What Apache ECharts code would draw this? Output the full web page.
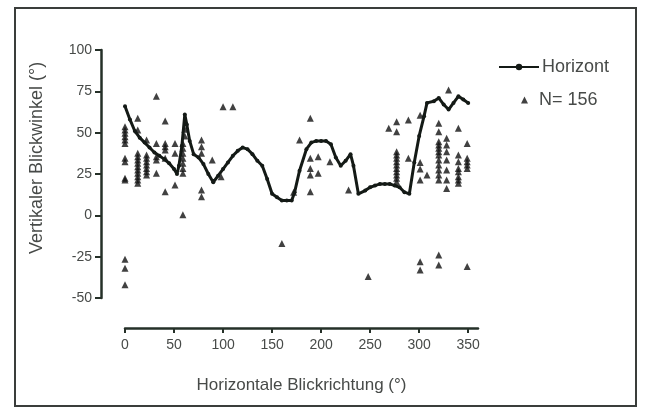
<!DOCTYPE html>
<html>
<head>
<meta charset="utf-8">
<script src="https://cdn.jsdelivr.net/npm/echarts@6/dist/echarts.min.js"></script>
<style>html,body{margin:0;padding:0;background:#fff}#c{width:646px;height:410px}</style>
</head>
<body>
<div id="c"></div>
<script>
// Horizon line (x in degrees, y in degrees)
const horizonX = [0,5,10,15,20,25,30,35,40,45,50,53,55,58,61,63,66,70,75,80,85,90,95,100,105,110,115,120,125,130,135,140,145,150,155,160,165,170,173,178,185,190,195,200,205,210,215,220,225,230,233,238,245,250,255,260,265,270,275,280,285,290,295,300,305,308,315,320,325,330,335,340,345,350];
const horizonY = [66,58,51,47,44,41,38,36,34,31.5,28,25,30,42,61,55,45,37,35,31,25,20,24,28,32,36,39,41,40,37,33,30,22,13,11,9,9,9,14,27,40,44,45,45,45,43,35,30,33,37,30,13,15,17,18,19,19,19,18,17,14,13,32,48,60,68,69,71,67,64,68,72,70,68];

// Individual observations (N = 156)
const pointX = [
  0,0,0,0,0,0,0,0,0,0,0,0,0,
  13,13,13,13,13,13,13,13,13,13,13,13,
  22,22,22,22,22,22,22,22,
  32,32,32,32,32,
  41,41,41,41,41,41,
  51,51,51,
  59,59,59,59,59,59,59,59,
  61,61,
  78,78,78,78,78,
  89,98,100,110,160,172,178,
  189,189,189,189,189,
  197,197,209,228,248,269,
  277,277,277,277,277,277,277,277,277,277,277,277,
  289,289,
  301,301,301,301,301,301,
  308,
  320,320,320,320,320,320,320,320,320,320,320,320,320,320,
  328,328,328,328,328,328,328,
  330,
  340,340,340,340,340,340,340,340,
  349,349,349,349,349,349
];
const pointY = [
  53.6,51.6,49.6,47.5,45.5,43.5,34.5,32.4,22.4,21.4,-26.6,-32,-42,
  58.7,51.6,37.5,35.5,33.5,31.5,29.4,27.4,25.4,23.4,21.4,19.4,
  45.5,36.5,34.5,32.4,30.4,28.4,26.4,24.4,
  72,43.5,35.5,33.5,25.4,
  57,43.5,41.5,39.5,34.5,14.3,
  43.5,37.5,18.3,
  43.5,40.5,37.5,34.5,31.5,28.4,25.4,0.3,
  52,48,
  45.5,41.5,37.5,15.3,11.3,
  33.5,23.4,65.7,65.7,-17,14,45.5,
  58.7,34.5,28.4,24.4,14.3,
  35.5,25.4,32.4,15.3,-37,52.6,
  56.6,50.6,38.5,36.5,34.5,32.4,30.4,28.4,26.4,24.4,22.4,20.3,
  57.7,34.5,
  60.6,32,28,21.4,-28,-33,
  24.4,
  55.7,50.6,44.5,42.5,40.5,38.5,36.5,33.5,30.4,27.4,24.4,21.4,-24,-30,
  46.6,42.5,38.5,33.5,27.4,21.4,16.3,
  75.8,
  52.6,36.5,32.4,28.4,26.4,23.4,21.4,19.4,
  43.5,34.5,32.4,30.4,28.4,-31
];

const xTicks = [0,50,100,150,200,250,300,350];
const yTicks = [-50,-25,0,25,50,75,100];

const FONT = '"Liberation Sans", Arial, sans-serif';
const AXIS = '#253028';
const TXT = '#474a48';

const chart = echarts.init(document.getElementById('c'), null, {renderer: 'canvas'});
chart.setOption({
  animation: false,
  backgroundColor: '#fff',
  textStyle: {fontFamily: FONT},
  grid: {left: 125, right: 168, top: 50, bottom: 112, containLabel: false},
  xAxis: {
    type: 'value', min: 0, max: 360, interval: 50,
    offset: 30,
    axisLine: {show: true, onZero: false, lineStyle: {color: AXIS, width: 2.5}},
    axisTick: {show: true, length: 5, lineStyle: {color: AXIS, width: 2}, customValues: xTicks},
    axisLabel: {color: TXT, fontSize: 14, fontFamily: FONT, margin: 10, customValues: xTicks},
    splitLine: {show: false},
    name: 'Horizontale Blickrichtung (°)', nameLocation: 'middle', nameGap: 49,
    nameTextStyle: {color: TXT, fontSize: 17, fontFamily: FONT}
  },
  yAxis: {
    type: 'value', min: -50, max: 100, interval: 25,
    offset: 24,
    axisLine: {show: true, onZero: false, lineStyle: {color: AXIS, width: 2.5}},
    axisTick: {show: true, length: 6, lineStyle: {color: AXIS, width: 2}, customValues: yTicks},
    axisLabel: {color: TXT, fontSize: 14, fontFamily: FONT, margin: 9, customValues: yTicks},
    splitLine: {show: false}
  },
  legend: [
    {
      orient: 'vertical', left: 498, top: 58, padding: 0,
      itemWidth: 40, itemHeight: 8,
      textStyle: {color: TXT, fontSize: 18, fontFamily: FONT, padding: [0,0,0,-2]},
      data: [{name: 'Horizont'}]
    },
    {
      orient: 'vertical', left: 521, top: 91, padding: 0,
      itemWidth: 7, itemHeight: 7,
      textStyle: {color: TXT, fontSize: 18, fontFamily: FONT, padding: [0,0,0,6]},
      data: [{name: 'N= 156', icon: 'triangle', itemStyle: {color: '#111'}}]
    }
  ],
  graphic: [
    {type: 'rect', shape: {x: 15, y: 8, width: 621, height: 398}, style: {fill: 'none', stroke: '#3a3d3b', lineWidth: 2}, silent: true},
    {type: 'text', x: 37, y: 158, rotation: Math.PI / 2,
     style: {text: 'Vertikaler Blickwinkel (°)', fill: TXT, font: '18px ' + FONT, textAlign: 'center', textVerticalAlign: 'middle'}}
  ],
  series: [
    {
      name: 'N= 156', type: 'scatter', symbol: 'triangle', symbolSize: 7,
      itemStyle: {color: '#111'},
      data: pointX.map((x, i) => [x, pointY[i]]), z: 2
    },
    {
      name: 'Horizont', type: 'line', symbol: 'circle', symbolSize: 4, showSymbol: true,
      lineStyle: {color: '#141a16', width: 3},
      itemStyle: {color: '#141a16'},
      data: horizonX.map((x, i) => [x, horizonY[i]]), z: 3
    }
  ]
});
</script>
</body>
</html>
